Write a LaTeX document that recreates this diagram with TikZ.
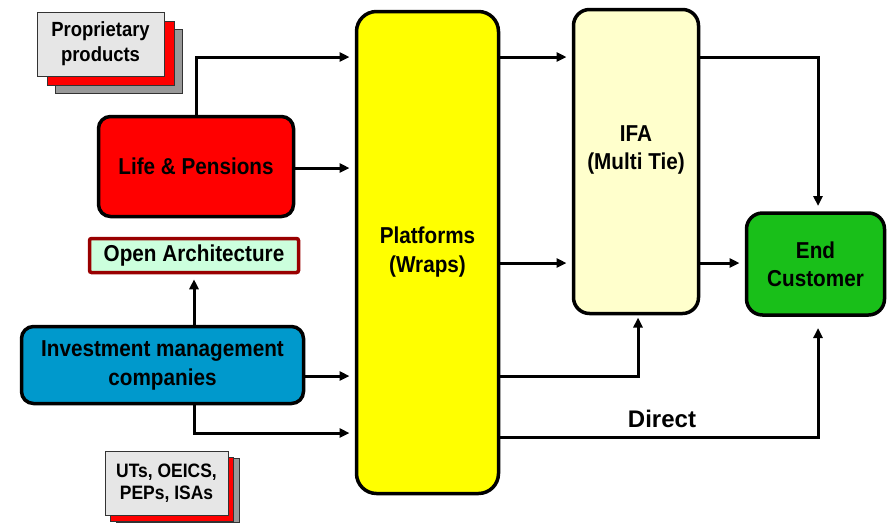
\documentclass[tikz,border=0pt]{standalone}
\usepackage{fontspec}
\setmainfont{Liberation Sans}
\newfontfamily\narrowsans[FakeStretch=0.9]{Liberation Sans}
\usetikzlibrary{arrows.meta}
\definecolor{lpred}{HTML}{FF0000}
\definecolor{invblue}{HTML}{0099CC}
\definecolor{platyellow}{HTML}{FFFF00}
\definecolor{ifacream}{HTML}{FFFFCC}
\definecolor{endgreen}{HTML}{19BF19}
\definecolor{oafill}{HTML}{CCFFDD}
\definecolor{oaborder}{HTML}{990000}
\definecolor{cardfront}{HTML}{E6E6E6}
\definecolor{cardback}{HTML}{999999}
\begin{document}
\begin{tikzpicture}[x=1pt,y=-1pt,
  mainbox/.style={draw=black, line width=3.5pt, rounded corners=12pt, align=center,
    inner sep=0pt, outer sep=0pt, font=\narrowsans\bfseries\fontsize{23}{29}\selectfont},
  card/.style={draw=black!80, line width=0.8pt, inner sep=0pt, outer sep=0pt,
    minimum width=#1},
  arr/.style={line width=3pt, -{Triangle[length=10pt,width=9pt]}, shorten >=7pt}]
\useasboundingbox (0,0) rectangle (890,523);

% --- stacked cards: proprietary products
\node[card=127pt, minimum height=64pt, fill=cardback] (ppc) at (118.5,61) {};
\node[card=127pt, minimum height=64pt, fill=lpred] (ppb) at (110.5,53) {};
\node[card=127pt, minimum height=64pt, fill=cardfront, align=center,
  font=\narrowsans\bfseries\fontsize{20.5}{25}\selectfont] (pp) at (100.5,44) {Proprietary\\products};

% --- stacked cards: fund wrappers
\node[card=123pt, minimum height=64pt, fill=cardback] (utc) at (177.5,490) {};
\node[card=123pt, minimum height=64pt, fill=lpred] (utb) at (171.5,489) {};
\node[card=123pt, minimum height=64pt, fill=cardfront, align=center,
  font=\narrowsans\bfseries\fontsize{19.4}{22}\selectfont] (ut) at (166.5,483) {UTs, OEICS,\\PEPs, ISAs};

% --- main boxes
\node[mainbox, fill=lpred, minimum width=195pt, minimum height=100pt] (lp) at (196,166.5) {Life \& Pensions};
\node[mainbox, fill=invblue, minimum width=282pt, minimum height=77pt] (inv) at (162.5,365)
  {Investment management\\companies};
\node[draw=oaborder, line width=3.5pt, rounded corners=2pt, fill=oafill, inner sep=0pt,
  minimum width=209pt, minimum height=34pt, font=\narrowsans\bfseries\fontsize{23}{24}\selectfont] (oa) at (194,255.5)
  {Open Architecture};
\node[mainbox, fill=platyellow, rounded corners=20pt, minimum width=142pt, minimum height=482pt] (plat) at (427.5,252.5)
  {Platforms\\(Wraps)};
\node[mainbox, fill=ifacream, rounded corners=16pt, minimum width=125pt, minimum height=304pt] (ifa) at (636,161.5) {};
\node[align=center, font=\narrowsans\bfseries\fontsize{23}{28}\selectfont] (ifatext) at (636,150) {IFA\\(Multi Tie)};
\node[mainbox, fill=endgreen, rounded corners=16pt, minimum width=138pt, minimum height=102pt,
  font=\narrowsans\bfseries\fontsize{23}{28}\selectfont] (end) at (815.5,264)
  {End\\Customer};

% --- routing levels
\coordinate (r57) at (0,57);
\coordinate (r168) at (0,168);
\coordinate (r263) at (0,263);
\coordinate (r376) at (0,376);
\coordinate (r433) at (0,433);
\coordinate (r437) at (0,437);
\coordinate (c638) at (638,0);
\coordinate (c818) at (818,0);

% --- connectors into the platforms
\draw[arr] (lp.north) |- (plat.west |- r57);
\draw[arr] (lp.east |- r168) -- (plat.west |- r168);
\draw[arr, shorten >=5pt] (inv.north -| oa.south) -- (oa.south);
\draw[arr] (inv.east |- r376) -- (plat.west |- r376);
\draw[arr] (inv.south -| oa.south) |- (plat.west |- r433);

% --- connectors out of the platforms
\draw[arr] (plat.east |- r57) -- (ifa.west |- r57);
\draw[arr] (plat.east |- r263) -- (ifa.west |- r263);
\draw[arr, shorten >=4pt] (plat.east |- r376) -| (c638 |- ifa.south);
\draw[arr, shorten >=13pt] (plat.east |- r437) -| (c818 |- end.south);
\node[font=\bfseries\fontsize{24}{28}\selectfont] (direct) at (662,419) {Direct};

% --- connectors to the end customer
\draw[arr] (ifa.east |- r57) -| (c818 |- end.north);
\draw[arr] (ifa.east |- r263) -- (end.west |- r263);
\end{tikzpicture}
\end{document}
